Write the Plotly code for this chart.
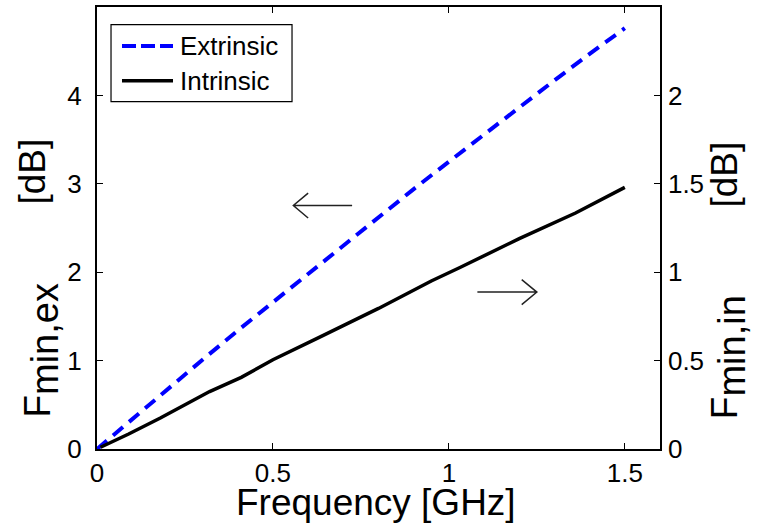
import plotly.graph_objects as go

# ---------------- data ----------------
freq_ex = [0.0, 0.1, 0.2, 0.3, 0.4, 0.5, 0.6, 0.7, 0.8, 0.9, 1.0, 1.1, 1.2, 1.3, 1.4, 1.5]
fmin_ex = [0.0, 0.34, 0.67, 1.01, 1.34, 1.66, 1.99, 2.31, 2.62, 2.94, 3.25, 3.56, 3.86, 4.17, 4.47, 4.76]

freq_in = [0.01, 0.09, 0.18, 0.32, 0.41, 0.50, 0.63, 0.80, 0.95, 1.03, 1.20, 1.36, 1.50]
fmin_in = [0.01, 0.085, 0.175, 0.325, 0.405, 0.505, 0.63, 0.795, 0.95, 1.025, 1.19, 1.335, 1.48]

x_ticks = [0, 0.5, 1, 1.5]
yl_ticks = [0, 1, 2, 3, 4]
yr_ticks = [0, 0.5, 1, 1.5, 2]

FONT = "Liberation Sans, Arial, Helvetica, sans-serif"
TICK_SIZE = 26
TITLE_SIZE = 37

fig = go.Figure()
fig.add_trace(go.Scatter(x=freq_ex, y=fmin_ex, mode="lines", name="Extrinsic",
                         line=dict(color="#0000ff", width=4, dash="13px,8px"),
                         yaxis="y", showlegend=False))
fig.add_trace(go.Scatter(x=freq_in, y=fmin_in, mode="lines", name="Intrinsic",
                         line=dict(color="#000000", width=3.5),
                         yaxis="y2", showlegend=False))

axis_common = dict(showgrid=False, zeroline=False, showline=True, linecolor="black",
                   ticks="inside", ticklen=6, tickcolor="black",
                   tickfont=dict(family=FONT, size=TICK_SIZE, color="black"))

fig.update_layout(
    width=757, height=530,
    margin=dict(l=97, r=97, t=5, b=81),
    paper_bgcolor="white", plot_bgcolor="white",
    font=dict(family=FONT, color="black"),
    xaxis=dict(range=[0, 1.6], tickvals=x_ticks, mirror="ticks", linewidth=2,
               ticklabelstandoff=0, **axis_common),
    yaxis=dict(range=[0, 5], tickvals=yl_ticks, linewidth=2, ticklabelstandoff=8,
               **axis_common),
    yaxis2=dict(range=[0, 2.5], tickvals=yr_ticks, overlaying="y", side="right",
                linewidth=1.5, ticklabelstandoff=1, **axis_common),
)

SUB = '<span style="font-size:38px">{}</span>'
title_font = dict(family=FONT, size=TITLE_SIZE, color="black")

# ---- axis titles ----
fig.add_annotation(text="Frequency [GHz]", xref="paper", yref="paper",
                   x=0.4964, y=-0.1216, xanchor="center", yanchor="middle",
                   showarrow=False, font=title_font)
# left y title: symbol part + unit part
fig.add_annotation(text="F<sub>" + SUB.format("min,ex") + "</sub>",
                   xref="paper", yref="paper", x=-0.0977, y=0.0676,
                   xanchor="center", yanchor="bottom", textangle=-90,
                   showarrow=False, font=title_font)
fig.add_annotation(text="[dB]", xref="paper", yref="paper", x=-0.1137, y=0.707,
                   xanchor="center", yanchor="top", textangle=-90,
                   showarrow=False, font=title_font)
# right y title
fig.add_annotation(text="F<sub>" + SUB.format("min,in") + "</sub>",
                   xref="paper", yref="paper", x=1.1208, y=0.063,
                   xanchor="center", yanchor="bottom", textangle=-90,
                   showarrow=False, font=title_font)
fig.add_annotation(text="[dB]", xref="paper", yref="paper", x=1.1154, y=0.700,
                   xanchor="center", yanchor="top", textangle=-90,
                   showarrow=False, font=title_font)

# ---- direction arrows (open heads) ----
arrow_style = dict(color="#222222", width=1.5)
fig.add_shape(type="path", xref="x", yref="y",
              path="M 0.725 2.754 L 0.558 2.754 M 0.600 2.895 L 0.558 2.754 L 0.600 2.613",
              line=arrow_style)
fig.add_shape(type="path", xref="x", yref="y",
              path="M 1.081 1.775 L 1.250 1.775 M 1.207 1.916 L 1.250 1.775 L 1.207 1.634",
              line=arrow_style)

# ---- custom legend ----
fig.add_shape(type="rect", xref="paper", yref="paper", x0=0.0249, x1=0.3464, y0=0.786, y1=0.960,
              line=dict(color="black", width=1.2), fillcolor="white")
fig.add_shape(type="line", xref="paper", yref="paper", x0=0.0444, x1=0.1350, y0=0.912, y1=0.912,
              line=dict(color="#0000ff", width=4, dash="14px,5px"))
fig.add_shape(type="line", xref="paper", yref="paper", x0=0.0444, x1=0.1350, y0=0.833, y1=0.833,
              line=dict(color="black", width=3.5))
fig.add_annotation(text="Extrinsic", xref="paper", yref="paper", x=0.1439, y=0.912,
                   xanchor="left", yanchor="middle", showarrow=False,
                   font=dict(family=FONT, size=TICK_SIZE, color="black"))
fig.add_annotation(text="Intrinsic", xref="paper", yref="paper", x=0.1439, y=0.833,
                   xanchor="left", yanchor="middle", showarrow=False,
                   font=dict(family=FONT, size=TICK_SIZE, color="black"))

fig.write_html("out.html")
